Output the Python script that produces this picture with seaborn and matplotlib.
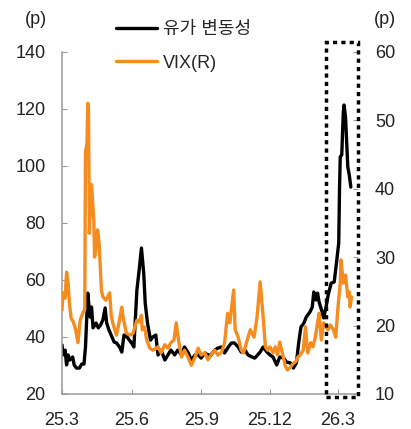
import pandas as pd
import matplotlib
matplotlib.use("Agg")
import matplotlib.pyplot as plt
import matplotlib.transforms as mtransforms
from matplotlib.patches import Rectangle
import seaborn as sns

# Oil price volatility (left axis, p)
oil_dates = [
    "2025-03-01", "2025-03-02", "2025-03-05", "2025-03-07", "2025-03-09", "2025-03-11",
    "2025-03-15", "2025-03-17", "2025-03-20", "2025-03-24", "2025-03-27", "2025-03-30",
    "2025-04-01", "2025-04-04", "2025-04-07", "2025-04-09", "2025-04-11", "2025-04-15",
    "2025-04-18", "2025-04-21", "2025-04-24", "2025-04-27", "2025-04-29", "2025-05-02",
    "2025-05-06", "2025-05-09", "2025-05-12", "2025-05-16", "2025-05-19", "2025-05-22",
    "2025-05-26", "2025-05-29", "2025-06-01", "2025-06-04", "2025-06-08", "2025-06-11",
    "2025-06-14", "2025-06-17", "2025-06-19", "2025-06-22", "2025-06-26", "2025-06-29",
    "2025-07-03", "2025-07-06", "2025-07-10", "2025-07-15", "2025-07-19", "2025-07-23",
    "2025-07-28", "2025-08-01", "2025-08-06", "2025-08-10", "2025-08-15", "2025-08-19",
    "2025-08-24", "2025-08-28", "2025-09-01", "2025-09-06", "2025-09-10", "2025-09-14",
    "2025-09-19", "2025-09-23", "2025-09-28", "2025-10-02", "2025-10-07", "2025-10-11",
    "2025-10-15", "2025-10-20", "2025-10-24", "2025-10-29", "2025-11-02", "2025-11-07",
    "2025-11-11", "2025-11-18", "2025-11-22", "2025-11-27", "2025-12-01", "2025-12-05",
    "2025-12-10", "2025-12-14", "2025-12-19", "2025-12-23", "2025-12-28", "2026-01-01",
    "2026-01-05", "2026-01-08", "2026-01-11", "2026-01-15", "2026-01-18", "2026-01-23",
    "2026-01-26", "2026-01-28", "2026-01-31", "2026-02-02", "2026-02-04", "2026-02-08",
    "2026-02-10", "2026-02-13", "2026-02-16", "2026-02-20", "2026-02-24", "2026-02-27",
    "2026-03-02", "2026-03-03", "2026-03-04", "2026-03-06", "2026-03-08", "2026-03-09",
    "2026-03-11", "2026-03-14", "2026-03-16", "2026-03-18",
]
oil_vol = [
    37.2, 33.7, 35.4, 30.2, 33.7, 31.9,
    33.0, 30.2, 29.1, 29.1, 30.5, 30.5,
    36.5, 55.4, 47.0, 50.5, 43.2, 44.9,
    43.2, 44.2, 46.0, 50.2, 44.9, 42.5,
    40.0, 38.2, 37.9, 36.5, 34.7, 40.7,
    40.0, 38.9, 37.9, 36.5, 56.5, 63.5,
    71.2, 62.5, 51.9, 44.9, 38.9, 40.0,
    40.7, 33.7, 35.4, 31.9, 33.7, 35.4,
    33.7, 35.4, 33.7, 36.5, 34.4, 31.9,
    33.7, 33.7, 32.6, 34.4, 33.7, 33.7,
    35.4, 36.1, 36.5, 34.4, 36.5, 37.9,
    37.9, 36.5, 34.7, 35.4, 33.7, 33.0,
    32.6, 34.7, 36.5, 34.7, 33.7, 33.0,
    30.2, 33.0, 32.6, 31.2, 30.9, 29.1,
    30.9, 37.9, 43.5, 44.9, 47.0, 48.8,
    50.5, 55.8, 53.0, 55.4, 52.3, 48.8,
    46.7, 50.2, 54.7, 58.9, 59.3, 66.0,
    73.0, 91.6, 103.2, 103.9, 118.6, 121.4,
    117.2, 99.6, 96.8, 92.6,
]

# VIX (right axis, p)
vix_dates = [
    "2025-03-01", "2025-03-02", "2025-03-05", "2025-03-07", "2025-03-09", "2025-03-11",
    "2025-03-13", "2025-03-16", "2025-03-19", "2025-03-22", "2025-03-25", "2025-03-29",
    "2025-03-31", "2025-04-01", "2025-04-03", "2025-04-04", "2025-04-05", "2025-04-06",
    "2025-04-09", "2025-04-12", "2025-04-13", "2025-04-15", "2025-04-17", "2025-04-19",
    "2025-04-22", "2025-04-24", "2025-04-28", "2025-05-03", "2025-05-05", "2025-05-07",
    "2025-05-12", "2025-05-16", "2025-05-19", "2025-05-21", "2025-05-25", "2025-05-30",
    "2025-06-03", "2025-06-08", "2025-06-11", "2025-06-14", "2025-06-15", "2025-06-18",
    "2025-06-21", "2025-06-25", "2025-06-29", "2025-07-04", "2025-07-06", "2025-07-10",
    "2025-07-15", "2025-07-19", "2025-07-23", "2025-07-27", "2025-07-30", "2025-08-02",
    "2025-08-06", "2025-08-10", "2025-08-15", "2025-08-19", "2025-08-24", "2025-08-28",
    "2025-09-01", "2025-09-06", "2025-09-10", "2025-09-14", "2025-09-19", "2025-09-23",
    "2025-09-28", "2025-10-02", "2025-10-06", "2025-10-09", "2025-10-12", "2025-10-14",
    "2025-10-16", "2025-10-20", "2025-10-24", "2025-10-27", "2025-11-01", "2025-11-05",
    "2025-11-10", "2025-11-14", "2025-11-18", "2025-11-22", "2025-11-25", "2025-11-28",
    "2025-12-01", "2025-12-05", "2025-12-08", "2025-12-11", "2025-12-14", "2025-12-18",
    "2025-12-21", "2025-12-24", "2025-12-28", "2026-01-01", "2026-01-04", "2026-01-07",
    "2026-01-10", "2026-01-14", "2026-01-17", "2026-01-20", "2026-01-24", "2026-01-27",
    "2026-01-30", "2026-02-02", "2026-02-04", "2026-02-07", "2026-02-10", "2026-02-13",
    "2026-02-16", "2026-02-19", "2026-02-23", "2026-02-26", "2026-03-01", "2026-03-04",
    "2026-03-05", "2026-03-08", "2026-03-11", "2026-03-14", "2026-03-16", "2026-03-17",
    "2026-03-19",
]
vix = [
    22.3, 24.8, 24.0, 27.8, 26.2, 23.0,
    21.1, 20.5, 19.4, 17.5, 20.8, 22.0,
    22.3, 45.4, 46.7, 52.5, 52.0, 33.5,
    40.6, 35.4, 30.0, 31.3, 34.0, 32.1,
    25.2, 24.2, 23.7, 24.8, 21.5, 20.4,
    18.6, 20.8, 22.7, 21.1, 18.9, 18.6,
    18.9, 20.8, 20.5, 21.5, 19.4, 19.8,
    17.9, 16.7, 16.4, 16.7, 16.9, 16.0,
    17.2, 16.7, 17.5, 17.9, 20.4, 17.9,
    15.4, 16.4, 15.3, 14.2, 15.4, 16.7,
    15.7, 16.0, 15.0, 15.7, 16.4, 15.7,
    16.1, 17.5, 21.8, 20.4, 23.3, 25.2,
    19.4, 18.3, 16.4, 16.0, 17.9, 19.4,
    18.3, 21.3, 26.4, 21.3, 16.9, 16.4,
    16.9, 16.0, 16.9, 15.7, 17.6, 15.7,
    14.2, 13.5, 13.9, 14.5, 14.7, 15.4,
    15.7, 16.4, 19.8, 16.0, 17.5, 16.9,
    18.3, 20.4, 21.8, 17.9, 20.4, 19.8,
    19.4, 20.1, 19.4, 18.3, 22.7, 26.2,
    29.6, 26.2, 27.4, 24.2, 24.9, 22.7,
    24.2,
]

tick_dates = ["2025-03-01", "2025-06-01", "2025-09-01", "2025-12-01", "2026-03-01"]
tick_labels = ["25.3", "25.6", "25.9", "25.12", "26.3"]
box_start, box_end = "2026-02-13", "2026-03-28"

sns.set_style("white")
plt.rcParams['font.family'] = ['Liberation Sans', 'Noto Sans CJK KR']
plt.rcParams['font.size'] = 13

oil_df = pd.DataFrame({'date': pd.to_datetime(oil_dates), 'value': oil_vol})
vix_df = pd.DataFrame({'date': pd.to_datetime(vix_dates), 'value': vix})

fig = plt.figure(figsize=(4.11, 4.29), dpi=100)
ax = fig.add_axes([0.151, 0.0816, 0.721, 0.7972])
ax2 = ax.twinx()

sns.lineplot(data=oil_df, x='date', y='value', ax=ax, color='black', lw=2.4, label='유가 변동성', legend=False)
sns.lineplot(data=vix_df, x='date', y='value', ax=ax2, color='#F58C20', lw=2.4, label='VIX(R)', legend=False)

ax.set_xlim(pd.Timestamp("2025-03-01"), pd.Timestamp(box_end))
ax.set_ylim(20, 140)
ax2.set_ylim(10, 60)
ax.set_yticks(range(20, 141, 20))
ax2.set_yticks(range(10, 61, 10))
ax.set_xticks(pd.to_datetime(tick_dates), tick_labels)
ax.set_xlabel('')
ax.set_ylabel('')
ax2.set_ylabel('')

for a in (ax, ax2):
    for s in ('top', 'right', 'left', 'bottom'):
        a.spines[s].set_visible(False)
ax.spines['left'].set_visible(True)
ax.spines['bottom'].set_visible(True)
ax.spines['left'].set_color('#9a9a9a')
ax.spines['bottom'].set_color('#9a9a9a')
ax.spines['left'].set_linewidth(1.1)
ax.spines['bottom'].set_linewidth(1.1)

ax.tick_params(axis='y', direction='in', length=3.5, width=0.8, color='#9a9a9a',
               labelsize=13, labelcolor='#222222', pad=12, left=True)
ax.tick_params(axis='x', direction='in', length=3.5, width=0.8, color='#9a9a9a',
               labelsize=13, labelcolor='#222222', pad=13, bottom=True)
ax2.tick_params(axis='y', direction='in', length=3.5, width=0.8, color='#9a9a9a',
                labelsize=13, labelcolor='#222222', pad=12, right=True)

# dotted box around the recent period
trans = mtransforms.blended_transform_factory(ax.transData, ax.transAxes)
x0 = matplotlib.dates.date2num(pd.Timestamp(box_start))
x1 = matplotlib.dates.date2num(pd.Timestamp(box_end))
rect = Rectangle((x0, -0.009), x1 - x0, 1.038, transform=trans, fill=False,
                 edgecolor='black', lw=2.5, linestyle=(0, (1.2, 1.2)), clip_on=False, zorder=5)
ax2.add_patch(rect)

h1, l1 = ax.get_legend_handles_labels()
h2, l2 = ax2.get_legend_handles_labels()
fig.legend(h1 + h2, l1 + l2, loc='upper left', bbox_to_anchor=(0.282, 0.95),
           frameon=False, fontsize=13, handlelength=2.3, handletextpad=0.3,
           labelspacing=0.9, borderpad=0, borderaxespad=0)

fig.text(36 / 411, 1 - 20 / 429, '(p)', ha='center', va='center', fontsize=13, color='#222222')
fig.text(385 / 411, 1 - 20 / 429, '(p)', ha='center', va='center', fontsize=13, color='#222222')

fig.savefig('out.png', dpi=100)
